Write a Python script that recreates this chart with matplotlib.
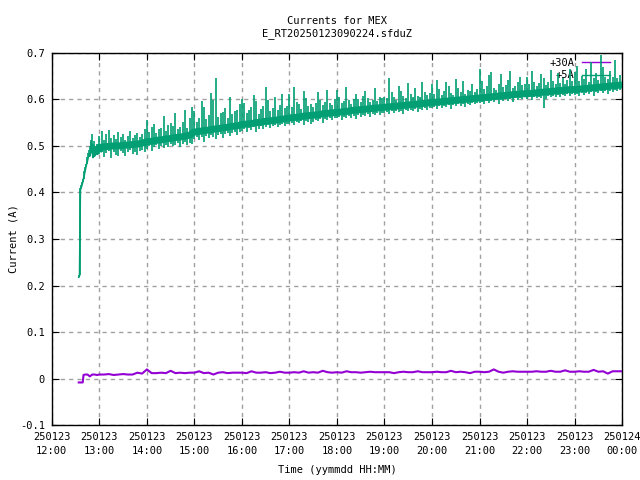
import numpy as np
import pandas as pd
import matplotlib
matplotlib.use("Agg")
import matplotlib.pyplot as plt
import matplotlib.dates as mdates
from matplotlib.lines import Line2D

plt.rcParams['font.family'] = ['DejaVu Sans Mono']
FS = 7.5

day = pd.Timestamp("2025-01-23")

# +5A, first minutes after switch-on (minutes after 12:00, amps)
p5_early_min = [34, 35, 36, 37, 38, 39, 40, 41, 42, 43, 44, 45, 46, 47, 48, 49,
                50, 51, 52, 53, 54, 55, 56, 57, 58, 59]
p5_early_lo = [0.218, 0.222, 0.405, 0.410, 0.416, 0.422, 0.430, 0.438, 0.446, 0.455,
               0.462, 0.468, 0.476, 0.480, 0.478, 0.486, 0.490, 0.488, 0.475, 0.480,
               0.478, 0.484, 0.482, 0.486, 0.482, 0.487]
p5_early_hi = [0.222, 0.405, 0.410, 0.416, 0.422, 0.430, 0.438, 0.446, 0.455, 0.462,
               0.468, 0.476, 0.485, 0.492, 0.500, 0.508, 0.512, 0.525, 0.505, 0.510,
               0.495, 0.500, 0.498, 0.504, 0.497, 0.502]

# +5A main band centre, 6 minute samples from 13:00, one row per hour
p5_band = [
    [0.497, 0.498, 0.499, 0.500, 0.500, 0.501, 0.502, 0.503, 0.504, 0.506],
    [0.509, 0.510, 0.512, 0.513, 0.515, 0.516, 0.518, 0.519, 0.521, 0.523],
    [0.530, 0.531, 0.533, 0.534, 0.536, 0.537, 0.539, 0.540, 0.542, 0.543],
    [0.546, 0.547, 0.548, 0.550, 0.551, 0.553, 0.554, 0.555, 0.557, 0.558],
    [0.560, 0.561, 0.562, 0.564, 0.565, 0.566, 0.567, 0.569, 0.570, 0.571],
    [0.572, 0.573, 0.574, 0.576, 0.577, 0.578, 0.579, 0.580, 0.581, 0.582],
    [0.583, 0.584, 0.585, 0.586, 0.587, 0.588, 0.589, 0.590, 0.591, 0.592],
    [0.593, 0.594, 0.595, 0.596, 0.597, 0.598, 0.599, 0.600, 0.601, 0.602],
    [0.603, 0.604, 0.605, 0.606, 0.607, 0.608, 0.609, 0.610, 0.611, 0.612],
    [0.612, 0.613, 0.614, 0.615, 0.616, 0.617, 0.618, 0.619, 0.620, 0.621],
    [0.621, 0.622, 0.623, 0.624, 0.625, 0.626, 0.627, 0.628, 0.629, 0.630],
]
p5_band_last = 0.631

# +5A excursions, 3 minute bins from 13:00: lowest and highest reading per bin
p5_lo = [
    [0.482, 0.488, 0.476, 0.485, 0.490, 0.474, 0.486, 0.481, 0.479, 0.489,
     0.484, 0.478, 0.488, 0.491, 0.483, 0.487, 0.480, 0.490, 0.492, 0.486],
    [0.494, 0.499, 0.490, 0.497, 0.502, 0.493, 0.500, 0.496, 0.503, 0.498,
     0.505, 0.499, 0.501, 0.506, 0.497, 0.504, 0.508, 0.502, 0.507, 0.505],
    [0.514, 0.519, 0.512, 0.520, 0.509, 0.522, 0.516, 0.524, 0.519, 0.515,
     0.523, 0.526, 0.518, 0.525, 0.528, 0.521, 0.527, 0.529, 0.524, 0.530],
    [0.532, 0.536, 0.529, 0.538, 0.534, 0.540, 0.530, 0.537, 0.542, 0.536,
     0.541, 0.544, 0.538, 0.543, 0.546, 0.540, 0.545, 0.547, 0.542, 0.548],
    [0.547, 0.550, 0.544, 0.551, 0.549, 0.553, 0.546, 0.554, 0.552, 0.548,
     0.551, 0.556, 0.553, 0.557, 0.550, 0.558, 0.555, 0.559, 0.556, 0.560],
    [0.559, 0.562, 0.556, 0.563, 0.560, 0.564, 0.561, 0.565, 0.558, 0.566,
     0.563, 0.567, 0.564, 0.568, 0.562, 0.569, 0.566, 0.570, 0.567, 0.571],
    [0.570, 0.573, 0.568, 0.574, 0.571, 0.575, 0.572, 0.576, 0.569, 0.577,
     0.574, 0.578, 0.575, 0.579, 0.573, 0.580, 0.577, 0.581, 0.578, 0.582],
    [0.581, 0.584, 0.579, 0.585, 0.582, 0.586, 0.583, 0.587, 0.580, 0.588,
     0.585, 0.589, 0.586, 0.590, 0.584, 0.591, 0.588, 0.592, 0.589, 0.593],
    [0.592, 0.595, 0.590, 0.596, 0.593, 0.597, 0.594, 0.598, 0.591, 0.599,
     0.596, 0.600, 0.597, 0.601, 0.595, 0.602, 0.599, 0.603, 0.600, 0.604],
    [0.601, 0.604, 0.599, 0.605, 0.602, 0.606, 0.603, 0.581, 0.600, 0.607,
     0.605, 0.608, 0.606, 0.609, 0.604, 0.610, 0.607, 0.611, 0.608, 0.612],
    [0.609, 0.612, 0.607, 0.613, 0.610, 0.614, 0.611, 0.615, 0.608, 0.616,
     0.613, 0.617, 0.614, 0.618, 0.612, 0.619, 0.616, 0.620, 0.617, 0.621],
]
p5_hi = [
    [0.521, 0.531, 0.512, 0.526, 0.534, 0.518, 0.524, 0.515, 0.529, 0.520,
     0.526, 0.513, 0.522, 0.532, 0.517, 0.523, 0.527, 0.519, 0.525, 0.537],
    [0.556, 0.530, 0.540, 0.548, 0.528, 0.536, 0.538, 0.565, 0.533, 0.545,
     0.549, 0.543, 0.571, 0.537, 0.541, 0.551, 0.578, 0.539, 0.560, 0.583],
    [0.575, 0.552, 0.561, 0.596, 0.583, 0.557, 0.566, 0.614, 0.599, 0.646,
     0.563, 0.570, 0.572, 0.582, 0.560, 0.604, 0.568, 0.574, 0.577, 0.590],
    [0.601, 0.592, 0.571, 0.578, 0.583, 0.609, 0.596, 0.569, 0.580, 0.586,
     0.626, 0.598, 0.575, 0.582, 0.604, 0.577, 0.588, 0.611, 0.581, 0.585],
    [0.612, 0.584, 0.627, 0.595, 0.589, 0.580, 0.618, 0.603, 0.586, 0.590,
     0.583, 0.592, 0.615, 0.598, 0.588, 0.594, 0.621, 0.593, 0.587, 0.600],
    [0.620, 0.605, 0.592, 0.597, 0.626, 0.598, 0.590, 0.601, 0.611, 0.600,
     0.594, 0.608, 0.617, 0.603, 0.595, 0.599, 0.624, 0.596, 0.606, 0.602],
    [0.606, 0.602, 0.646, 0.615, 0.604, 0.599, 0.628, 0.619, 0.607, 0.603,
     0.636, 0.611, 0.605, 0.625, 0.608, 0.604, 0.638, 0.616, 0.609, 0.613],
    [0.632, 0.612, 0.641, 0.622, 0.610, 0.618, 0.637, 0.628, 0.614, 0.609,
     0.644, 0.625, 0.615, 0.639, 0.612, 0.620, 0.617, 0.633, 0.616, 0.623],
    [0.665, 0.640, 0.622, 0.628, 0.652, 0.659, 0.625, 0.620, 0.634, 0.655,
     0.627, 0.631, 0.642, 0.660, 0.624, 0.629, 0.637, 0.648, 0.630, 0.633],
    [0.649, 0.632, 0.660, 0.638, 0.629, 0.635, 0.655, 0.645, 0.631, 0.637,
     0.662, 0.640, 0.634, 0.657, 0.636, 0.646, 0.633, 0.641, 0.665, 0.639],
    [0.658, 0.672, 0.640, 0.651, 0.643, 0.665, 0.638, 0.680, 0.645, 0.656,
     0.642, 0.696, 0.670, 0.647, 0.644, 0.660, 0.649, 0.684, 0.646, 0.652],
]

# +30A, first minutes after switch-on
p30_early_min = [34, 39, 40, 42, 45, 48, 51, 54, 57]
p30_early = [-0.008, -0.008, 0.008, 0.009, 0.009, 0.005, 0.009, 0.009, 0.008]

# +30A, 6 minute samples from 13:00, one row per hour
p30_hours = [
    [0.009, 0.009, 0.010, 0.008, 0.009, 0.010, 0.009, 0.009, 0.013, 0.011],
    [0.020, 0.012, 0.012, 0.013, 0.012, 0.017, 0.012, 0.013, 0.012, 0.013],
    [0.013, 0.016, 0.012, 0.013, 0.009, 0.013, 0.014, 0.012, 0.013, 0.013],
    [0.013, 0.012, 0.016, 0.013, 0.013, 0.014, 0.012, 0.013, 0.015, 0.013],
    [0.013, 0.014, 0.013, 0.016, 0.013, 0.014, 0.013, 0.017, 0.014, 0.013],
    [0.014, 0.013, 0.016, 0.014, 0.014, 0.013, 0.014, 0.015, 0.014, 0.014],
    [0.014, 0.014, 0.012, 0.014, 0.015, 0.014, 0.014, 0.016, 0.014, 0.014],
    [0.014, 0.015, 0.014, 0.014, 0.017, 0.014, 0.015, 0.014, 0.012, 0.015],
    [0.015, 0.014, 0.015, 0.020, 0.015, 0.013, 0.015, 0.016, 0.015, 0.015],
    [0.015, 0.015, 0.016, 0.015, 0.015, 0.017, 0.015, 0.015, 0.018, 0.015],
    [0.015, 0.016, 0.015, 0.015, 0.019, 0.015, 0.016, 0.011, 0.016, 0.016],
]
p30_last = 0.016


def grid_times(n_rows, per_row, step):
    return [day + pd.Timedelta(hours=13 + h, minutes=k * step)
            for h in range(n_rows) for k in range(per_row)]


def early_times(mins):
    return [day + pd.Timedelta(hours=12, minutes=m) for m in mins]


def flat(rows):
    return [v for row in rows for v in row]


end = day + pd.Timedelta(hours=24)
GREEN = '#009e73'
PURPLE = '#9400d3'

fig = plt.figure(figsize=(6.4, 4.8), dpi=100)
ax = fig.add_axes([0.081, 0.114, 0.891, 0.776])

# +30A
t30 = early_times(p30_early_min) + grid_times(len(p30_hours), 10, 6) + [end]
v30 = p30_early + flat(p30_hours) + [p30_last]
ax.plot(t30, v30, color=PURPLE, lw=1.5, zorder=3)

# +5A: switch-on ramp, then dense noisy band with spikes
te = early_times(p5_early_min)
ax.plot(te, p5_early_lo, color=GREEN, lw=1.2, zorder=3)
ax.vlines(te, p5_early_lo, p5_early_hi, color=GREEN, lw=1.2, zorder=3)

tb = grid_times(len(p5_band), 10, 6) + [end]
ax.plot([te[-1]] + tb, [p5_early_lo[-1]] + flat(p5_band) + [p5_band_last],
        color=GREEN, lw=5.0, solid_capstyle='butt', zorder=3)

ts = grid_times(len(p5_lo), 20, 3)
ax.vlines(ts, flat(p5_lo), flat(p5_hi), color=GREEN, lw=1.2, zorder=3)

ax.set_xlim(day + pd.Timedelta(hours=12), end)
ax.set_ylim(-0.1, 0.7)
ax.set_yticks(np.arange(-0.1, 0.71, 0.1))
ax.yaxis.set_major_formatter(plt.FuncFormatter(lambda y, p: '%g' % round(y, 2)))
ax.xaxis.set_major_locator(mdates.HourLocator())
ax.xaxis.set_major_formatter(mdates.DateFormatter('%y%m%d\n%H:%M'))

ax.tick_params(direction='in', top=True, right=True, length=5, labelsize=FS, pad=5)
ax.grid(True, color='#a0a0a0', linestyle=(0, (3, 3)), lw=1.0)
for s in ax.spines.values():
    s.set_linewidth(1.0)

ax.set_title('Currents for MEX\nE_RT20250123090224.sfduZ', fontsize=FS, pad=12,
             linespacing=1.25)
ax.set_xlabel('Time (yymmdd HH:MM)', fontsize=FS)
ax.xaxis.set_label_coords(0.5, -0.107)
ax.set_ylabel('Current (A)', fontsize=FS)
ax.yaxis.set_label_coords(-0.058, 0.5)

handles = [Line2D([], [], color=PURPLE, lw=1.0), Line2D([], [], color=GREEN, lw=1.0)]
leg = ax.legend(handles, ['+30A', '+5A'], loc='upper right', frameon=False,
                markerfirst=False, fontsize=FS, handlelength=2.7, borderpad=0,
                borderaxespad=0, bbox_to_anchor=(0.979, 0.987), labelspacing=0.25,
                handletextpad=0.7)
leg.set_zorder(1)

fig.canvas.draw()
for lbl in ax.get_xticklabels():
    lbl.set_linespacing(1.45)

fig.savefig('out.png', dpi=100)
